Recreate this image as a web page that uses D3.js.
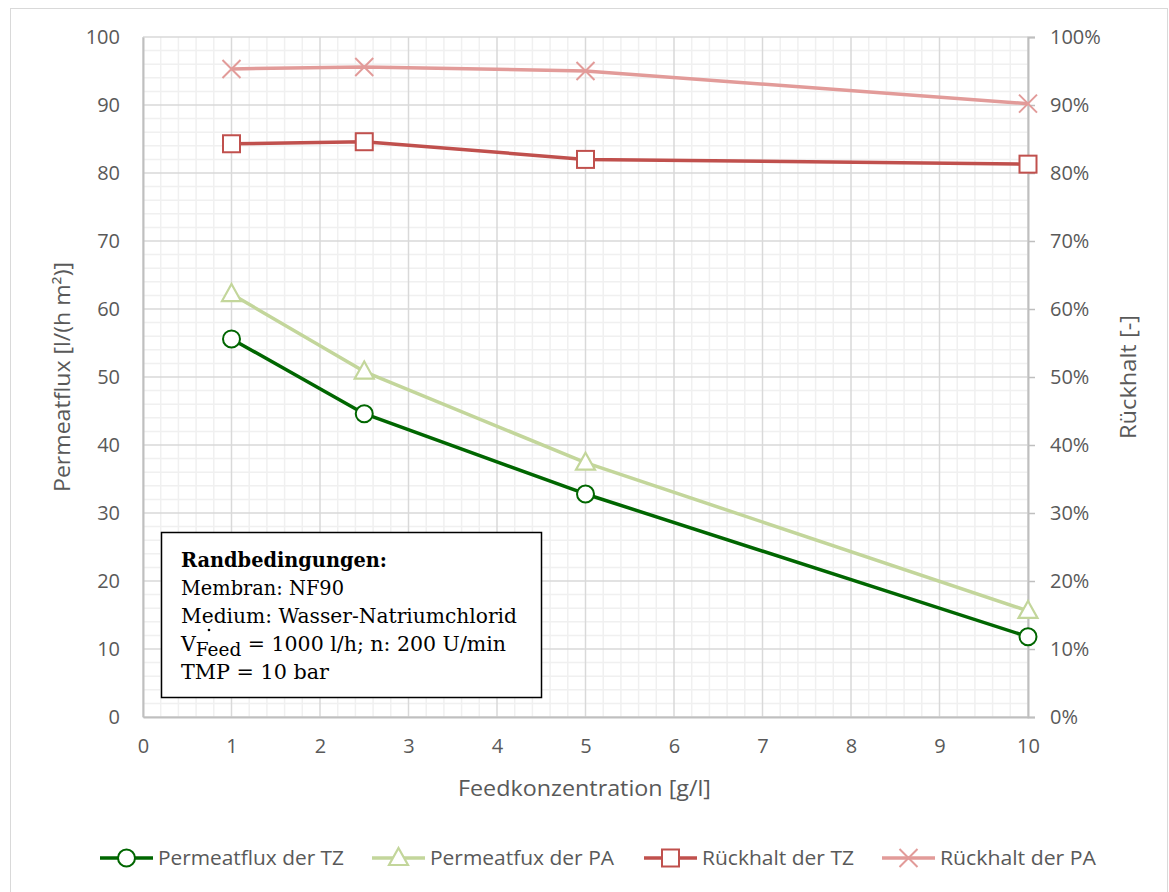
<!DOCTYPE html>
<html>
<head>
<meta charset="utf-8">
<script src="https://cdn.jsdelivr.net/npm/d3@7"></script>
<style>
  html, body { margin: 0; padding: 0; background: #fff; }
  svg { display: block; }
</style>
</head>
<body>
<svg id="chart" width="1169" height="892"></svg>
<script>
// Feed concentration (g/l) at which the measurements were taken
const feedConc = [1, 2.5, 5, 10];

// Permeate flux in l/(h m²)
const fluxTZ = [55.6, 44.6, 32.8, 11.8];
const fluxPA = [62.2, 50.8, 37.4, 15.6];

// Salt retention in %
const retentionTZ = [84.3, 84.6, 82.0, 81.3];
const retentionPA = [95.3, 95.6, 95.0, 90.2];

// Axis ticks
const xTicks = [0, 1, 2, 3, 4, 5, 6, 7, 8, 9, 10];
const yLeftTicks = [0, 10, 20, 30, 40, 50, 60, 70, 80, 90, 100];
const yRightTicks = [0, 10, 20, 30, 40, 50, 60, 70, 80, 90, 100];

const seriesNames = ["Permeatflux der TZ", "Permeatfux der PA", "Rückhalt der TZ", "Rückhalt der PA"];

const svg = d3.select("#chart");
const W = 1169, H = 892;
const plot = { left: 143, right: 1028, top: 37, bottom: 717 };

const x = d3.scaleLinear().domain([0, 10]).range([plot.left, plot.right]);
const yL = d3.scaleLinear().domain([0, 100]).range([plot.bottom, plot.top]);
const yR = d3.scaleLinear().domain([0, 100]).range([plot.bottom, plot.top]);

const font = "'Open Sans', 'Noto Sans', sans-serif";
const textColor = "#595959";

// chart frame
svg.append("rect")
  .attr("x", 10.5).attr("y", 8.5)
  .attr("width", W - 12).attr("height", H)
  .attr("fill", "#fff").attr("stroke", "#d9d9d9").attr("stroke-width", 1);

// minor gridlines
const g = svg.append("g");
const minorX = d3.range(0, 10.001, 0.2).filter(v => Math.abs(v - Math.round(v)) > 1e-6);
const minorY = d3.range(0, 100.001, 2).filter(v => v % 10 !== 0);
g.selectAll(".mx").data(minorX).join("line")
  .attr("x1", d => x(d)).attr("x2", d => x(d))
  .attr("y1", plot.top).attr("y2", plot.bottom)
  .attr("stroke", "#f0f0f0").attr("stroke-width", 1.5);
g.selectAll(".my").data(minorY).join("line")
  .attr("x1", plot.left).attr("x2", plot.right)
  .attr("y1", d => yL(d)).attr("y2", d => yL(d))
  .attr("stroke", "#f0f0f0").attr("stroke-width", 1.5);

// major gridlines
g.selectAll(".Mx").data(xTicks).join("line")
  .attr("x1", d => x(d)).attr("x2", d => x(d))
  .attr("y1", plot.top).attr("y2", plot.bottom)
  .attr("stroke", "#d9d9d9").attr("stroke-width", 1.5);
g.selectAll(".My").data(yLeftTicks).join("line")
  .attr("x1", plot.left).attr("x2", plot.right)
  .attr("y1", d => yL(d)).attr("y2", d => yL(d))
  .attr("stroke", "#d9d9d9").attr("stroke-width", 1.5);

// axes
const axisColor = "#bfbfbf";
const xAxis = d3.axisBottom(x).tickValues(xTicks).tickSize(0).tickPadding(22).tickFormat(d3.format("d"));
const yAxisL = d3.axisLeft(yL).tickValues(yLeftTicks).tickSize(0).tickPadding(23).tickFormat(d3.format("d"));
const yAxisR = d3.axisRight(yR).tickValues(yRightTicks).tickSize(7).tickPadding(15).tickFormat(d => d + "%");

function styleAxis(sel) {
  sel.select(".domain").attr("stroke", axisColor).attr("stroke-width", 2);
  sel.selectAll(".tick line").attr("stroke", axisColor).attr("stroke-width", 1.5);
  sel.selectAll("text").attr("fill", textColor).style("font-family", font).style("font-size", "20px");
}
svg.append("g").attr("transform", `translate(0,${plot.bottom})`).call(xAxis).call(styleAxis);
svg.append("g").attr("transform", `translate(${plot.left},0)`).call(yAxisL).call(styleAxis);
svg.append("g").attr("transform", `translate(${plot.right},0)`).call(yAxisR).call(styleAxis);

// axis titles
svg.append("text")
  .attr("transform", `translate(70,${(plot.top + plot.bottom) / 2}) rotate(-90)`)
  .attr("text-anchor", "middle").attr("fill", textColor)
  .style("font-family", font).style("font-size", "21px")
  .attr("textLength", 230).attr("lengthAdjust", "spacingAndGlyphs")
  .text("Permeatflux [l/(h m²)]");
svg.append("text")
  .attr("transform", `translate(1136,${(plot.top + plot.bottom) / 2}) rotate(-90)`)
  .attr("text-anchor", "middle").attr("fill", textColor)
  .style("font-family", font).style("font-size", "21px")
  .attr("textLength", 124).attr("lengthAdjust", "spacingAndGlyphs")
  .text("Rückhalt [-]");
svg.append("text")
  .attr("x", (plot.left + plot.right) / 2 - 1).attr("y", 796)
  .attr("text-anchor", "middle").attr("fill", textColor)
  .style("font-family", font).style("font-size", "21px")
  .attr("textLength", 253).attr("lengthAdjust", "spacingAndGlyphs")
  .text("Feedkonzentration [g/l]");

// series
const series = [
  { name: seriesNames[0], values: fluxTZ, scale: yL, color: "#006600", marker: "circle", textLen: 186 },
  { name: seriesNames[1], values: fluxPA, scale: yL, color: "#c3d69b", marker: "triangle", textLen: 184 },
  { name: seriesNames[2], values: retentionTZ, scale: yR, color: "#c0504d", marker: "square", textLen: 152 },
  { name: seriesNames[3], values: retentionPA, scale: yR, color: "#e29b99", marker: "cross", textLen: 156 }
];

function drawMarker(sel, type, color) {
  if (type === "circle") {
    sel.append("circle").attr("r", 8.5).attr("fill", "#fff").attr("stroke", color).attr("stroke-width", 2);
  } else if (type === "triangle") {
    sel.append("path").attr("d", "M0,-10 L9.5,7 L-9.5,7 Z")
      .attr("fill", "#fff").attr("stroke", color).attr("stroke-width", 2.2);
  } else if (type === "square") {
    sel.append("rect").attr("x", -8.5).attr("y", -8.5).attr("width", 17).attr("height", 17)
      .attr("fill", "#fff").attr("stroke", color).attr("stroke-width", 2);
  } else if (type === "cross") {
    sel.append("path").attr("d", "M-9,-9 L9,9 M9,-9 L-9,9")
      .attr("fill", "none").attr("stroke", color).attr("stroke-width", 2);
  }
}

series.forEach(s => {
  const pts = feedConc.map((c, i) => [x(c), s.scale(s.values[i])]);
  svg.append("path")
    .attr("d", d3.line()(pts))
    .attr("fill", "none").attr("stroke", s.color).attr("stroke-width", 3.5)
    .attr("stroke-linejoin", "round");
  pts.forEach(p => {
    const m = svg.append("g").attr("transform", `translate(${p[0]},${p[1]})`);
    drawMarker(m, s.marker, s.color);
  });
});

// annotation box with the operating conditions
const box = svg.append("g");
box.append("rect")
  .attr("x", 161.5).attr("y", 532.5).attr("width", 380).attr("height", 165)
  .attr("fill", "#fff").attr("stroke", "#000").attr("stroke-width", 1.5);
const serif = "'DejaVu Serif', 'Liberation Serif', serif";
const tx = 181;
box.append("text").attr("x", tx).attr("y", 567)
  .style("font-family", serif).style("font-size", "20px").style("font-weight", "bold")
  .attr("textLength", 206).attr("lengthAdjust", "spacingAndGlyphs")
  .attr("fill", "#000").text("Randbedingungen:");
const lines = [["Membran: NF90", 163], ["Medium: Wasser-Natriumchlorid", 336]];
lines.forEach((t, i) => {
  box.append("text").attr("x", tx).attr("y", 595 + i * 28)
    .style("font-family", serif).style("font-size", "20px").attr("fill", "#000")
    .attr("textLength", t[1]).attr("lengthAdjust", "spacingAndGlyphs")
    .text(t[0]);
});
const vLine = box.append("text").attr("x", tx).attr("y", 651)
  .style("font-family", serif).style("font-size", "20px").attr("fill", "#000")
  .attr("textLength", 325).attr("lengthAdjust", "spacingAndGlyphs");
vLine.append("tspan").text("V");
vLine.append("tspan").attr("dy", 5).style("font-size", "18px").text("Feed");
vLine.append("tspan").attr("dy", -5).text(" = 1000 l/h;  n: 200 U/min");
box.append("circle").attr("cx", 209).attr("cy", 630).attr("r", 1.3).attr("fill", "#000");
box.append("text").attr("x", tx).attr("y", 679)
  .style("font-family", serif).style("font-size", "20px").attr("fill", "#000")
  .attr("textLength", 148).attr("lengthAdjust", "spacingAndGlyphs")
  .text("TMP = 10 bar");

// legend
const legendX = [100, 372, 644, 882];
const legendY = 858;
series.forEach((s, i) => {
  const lg = svg.append("g").attr("transform", `translate(${legendX[i]},${legendY})`);
  lg.append("line").attr("x1", 0).attr("x2", 53).attr("y1", 0).attr("y2", 0)
    .attr("stroke", s.color).attr("stroke-width", 3.5);
  const m = lg.append("g").attr("transform", "translate(26.5,0)");
  drawMarker(m, s.marker, s.color);
  lg.append("text").attr("x", 58).attr("y", 0).attr("dy", "0.35em")
    .attr("fill", textColor).style("font-family", font).style("font-size", "20px")
    .attr("textLength", s.textLen).attr("lengthAdjust", "spacingAndGlyphs")
    .text(s.name);
});
</script>
</body>
</html>
